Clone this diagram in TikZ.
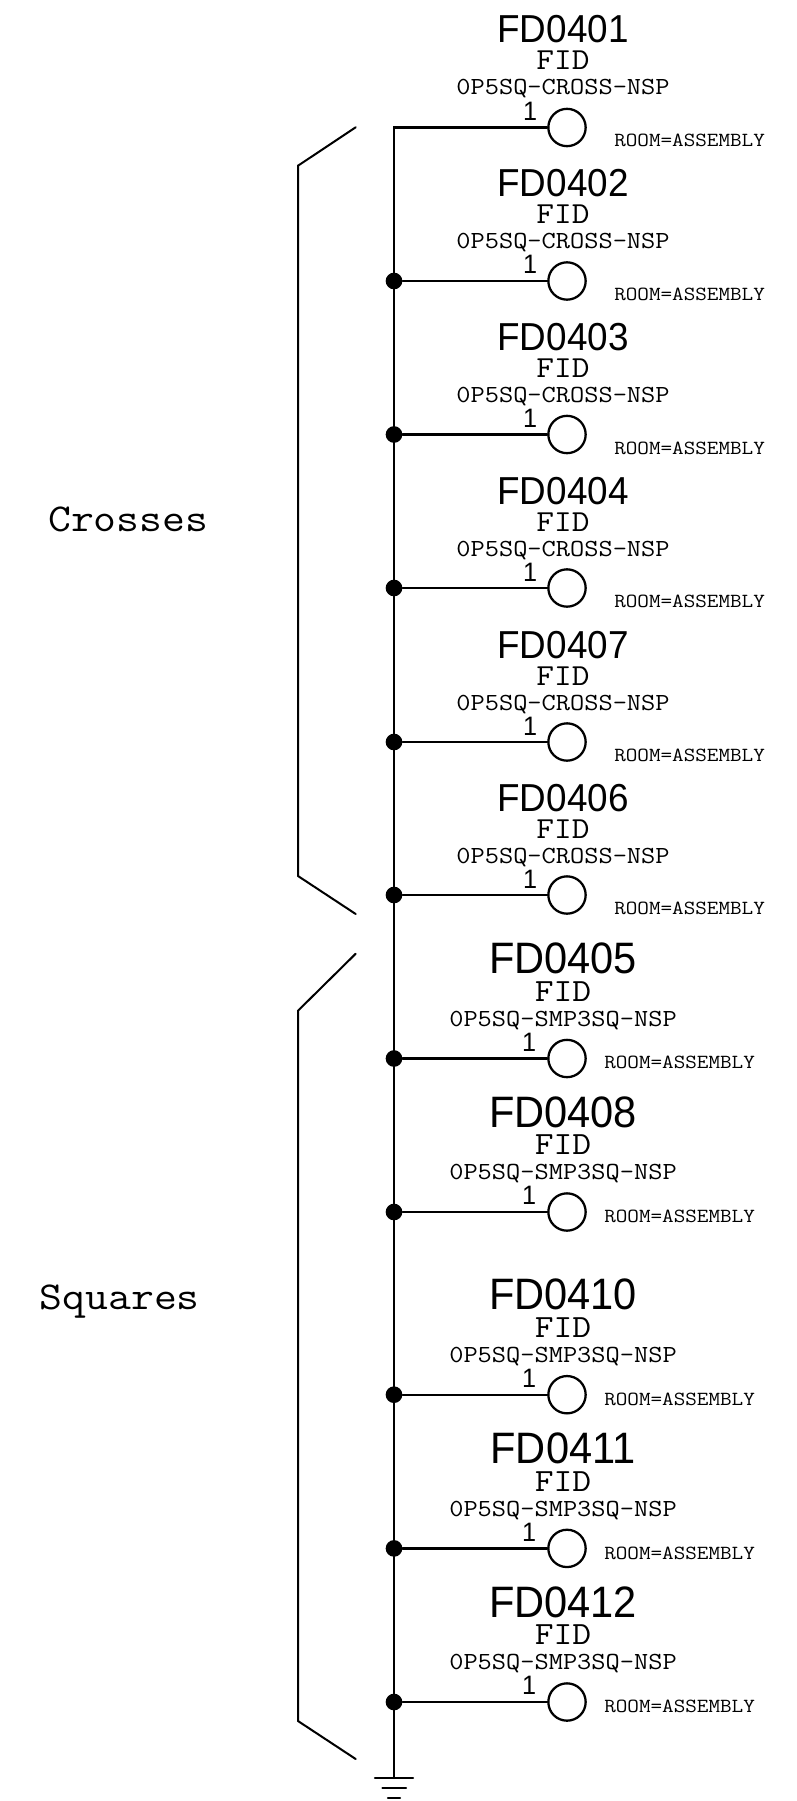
\documentclass[tikz,border=0pt]{standalone}
\usepackage{fontspec}
\newfontfamily\refdesfont[FakeStretch=0.945]{Liberation Sans}
\newfontfamily\attrfont[FakeStretch=1.125]{Latin Modern Mono}
\begin{document}
\begin{tikzpicture}[x=0.75pt,y=-0.75pt,
		wire/.style={line width=1.8pt,line cap=round},
		pad/.style={circle,draw,line width=1.7pt,minimum size=28pt,inner sep=0pt},
		junction/.style={circle,fill=black,minimum size=12.5pt,inner sep=0pt},
		refdes/.style={anchor=base,inner sep=0pt,font=\refdesfont\fontsize{29.25}{30}\selectfont},
		value/.style={anchor=base,inner sep=0pt,font=\attrfont\fontsize{22.9}{24}\selectfont},
		part/.style={anchor=base,inner sep=0pt,font=\attrfont\fontsize{18.4}{20}\selectfont},
		refdesbig/.style={anchor=base,inner sep=0pt,font=\refdesfont\fontsize{33}{34}\selectfont},
		valuebig/.style={anchor=base,inner sep=0pt,font=\attrfont\fontsize{24.3}{26}\selectfont},
		pinnum/.style={anchor=base,inner sep=0pt,font=\refdesfont\fontsize{20}{21}\selectfont},
		room/.style={anchor=base west,inner sep=0pt,font=\attrfont\fontsize{15}{16}\selectfont},
		group/.style={anchor=base west,inner sep=0pt,font=\attrfont\fontsize{29.6}{31}\selectfont}]
		\useasboundingbox (0,0) rectangle (796,1801);
		% crosses
		\node[refdes] (ref1) at (563,43) {FD0401};
		\node[value] (val1) at (563,70) {FID};
		\node[part] (part1) at (563,95) {0P5SQ-CROSS-NSP};
		\node[pinnum] (pin1) at (530,120.5) {1};
		\node[room] (room1) at (614,147) {ROOM=ASSEMBLY};
		\node[pad] (pad1) at (567,127.5) {};
		\coordinate (top) at (394,127.5);
		\node[refdes] (ref2) at (563,197) {FD0402};
		\node[value] (val2) at (563,224) {FID};
		\node[part] (part2) at (563,249) {0P5SQ-CROSS-NSP};
		\node[pinnum] (pin2) at (530,274) {1};
		\node[room] (room2) at (614,300.5) {ROOM=ASSEMBLY};
		\node[pad] (pad2) at (567,281) {};
		\node[junction] (dot2) at (394,281) {};
		\node[refdes] (ref3) at (563,350.5) {FD0403};
		\node[value] (val3) at (563,377.5) {FID};
		\node[part] (part3) at (563,402.5) {0P5SQ-CROSS-NSP};
		\node[pinnum] (pin3) at (530,427.5) {1};
		\node[room] (room3) at (614,454) {ROOM=ASSEMBLY};
		\node[pad] (pad3) at (567,434.5) {};
		\node[junction] (dot3) at (394,434.5) {};
		\node[refdes] (ref4) at (563,504) {FD0404};
		\node[value] (val4) at (563,531) {FID};
		\node[part] (part4) at (563,556) {0P5SQ-CROSS-NSP};
		\node[pinnum] (pin4) at (530,581) {1};
		\node[room] (room4) at (614,607.5) {ROOM=ASSEMBLY};
		\node[pad] (pad4) at (567,588) {};
		\node[junction] (dot4) at (394,588) {};
		\node[refdes] (ref5) at (563,658) {FD0407};
		\node[value] (val5) at (563,685) {FID};
		\node[part] (part5) at (563,710) {0P5SQ-CROSS-NSP};
		\node[pinnum] (pin5) at (530,735) {1};
		\node[room] (room5) at (614,761.5) {ROOM=ASSEMBLY};
		\node[pad] (pad5) at (567,742) {};
		\node[junction] (dot5) at (394,742) {};
		\node[refdes] (ref6) at (563,811) {FD0406};
		\node[value] (val6) at (563,838) {FID};
		\node[part] (part6) at (563,863) {0P5SQ-CROSS-NSP};
		\node[pinnum] (pin6) at (530,888) {1};
		\node[room] (room6) at (614,914.5) {ROOM=ASSEMBLY};
		\node[pad] (pad6) at (567,895) {};
		\node[junction] (dot6) at (394,895) {};
		% squares
		\node[refdesbig] (ref7) at (563,973.5) {FD0405};
		\node[valuebig] (val7) at (563,1001) {FID};
		\node[part] (part7) at (563,1026) {0P5SQ-SMP3SQ-NSP};
		\node[pinnum] (pin7) at (529,1051) {1};
		\node[room] (room7) at (604,1068.5) {ROOM=ASSEMBLY};
		\node[pad] (pad7) at (567,1058.5) {};
		\node[junction] (dot7) at (394,1058.5) {};
		\node[refdesbig] (ref8) at (563,1127) {FD0408};
		\node[valuebig] (val8) at (563,1154.5) {FID};
		\node[part] (part8) at (563,1179.5) {0P5SQ-SMP3SQ-NSP};
		\node[pinnum] (pin8) at (529,1204.5) {1};
		\node[room] (room8) at (604,1222) {ROOM=ASSEMBLY};
		\node[pad] (pad8) at (567,1212) {};
		\node[junction] (dot8) at (394,1212) {};
		\node[refdesbig] (ref9) at (563,1309.5) {FD0410};
		\node[valuebig] (val9) at (563,1337) {FID};
		\node[part] (part9) at (563,1362) {0P5SQ-SMP3SQ-NSP};
		\node[pinnum] (pin9) at (529,1387) {1};
		\node[room] (room9) at (604,1405) {ROOM=ASSEMBLY};
		\node[pad] (pad9) at (567,1394.7) {};
		\node[junction] (dot9) at (394,1394.7) {};
		\node[refdesbig] (ref10) at (563,1463) {FD0411};
		\node[valuebig] (val10) at (563,1491) {FID};
		\node[part] (part10) at (563,1516) {0P5SQ-SMP3SQ-NSP};
		\node[pinnum] (pin10) at (529,1541) {1};
		\node[room] (room10) at (604,1559) {ROOM=ASSEMBLY};
		\node[pad] (pad10) at (567,1548.4) {};
		\node[junction] (dot10) at (394,1548.4) {};
		\node[refdesbig] (ref11) at (563,1617) {FD0412};
		\node[valuebig] (val11) at (563,1644.5) {FID};
		\node[part] (part11) at (563,1669.5) {0P5SQ-SMP3SQ-NSP};
		\node[pinnum] (pin11) at (529,1694.5) {1};
		\node[room] (room11) at (604,1712) {ROOM=ASSEMBLY};
		\node[pad] (pad11) at (567,1702) {};
		\node[junction] (dot11) at (394,1702) {};
		% net
		\coordinate (gnd) at (394,1778);
		\draw[wire] (pad1) -- (top) -- (gnd);
		\draw[wire] (dot2) -- (pad2);
		\draw[wire] (dot3) -- (pad3);
		\draw[wire] (dot4) -- (pad4);
		\draw[wire] (dot5) -- (pad5);
		\draw[wire] (dot6) -- (pad6);
		\draw[wire] (dot7) -- (pad7);
		\draw[wire] (dot8) -- (pad8);
		\draw[wire] (dot9) -- (pad9);
		\draw[wire] (dot10) -- (pad10);
		\draw[wire] (dot11) -- (pad11);
		\draw[wire] (375,1778) -- (413,1778);
		\draw[wire] (382.5,1788) -- (406,1788);
		\draw[wire] (388,1798) -- (400,1798);
		% brackets
		\draw[wire,line width=1.5pt] (355.7,127.3) -- (298,165.7) -- (298,876) -- (355.7,914);
		\draw[wire,line width=1.5pt] (355.7,953.7) -- (298,1010.7) -- (298,1721) -- (355.7,1759);
		\node[group] (crosses) at (48,531.7) {Crosses};
		\node[group] (squares) at (39.5,1309.3) {Squares};
\end{tikzpicture}
\end{document}
